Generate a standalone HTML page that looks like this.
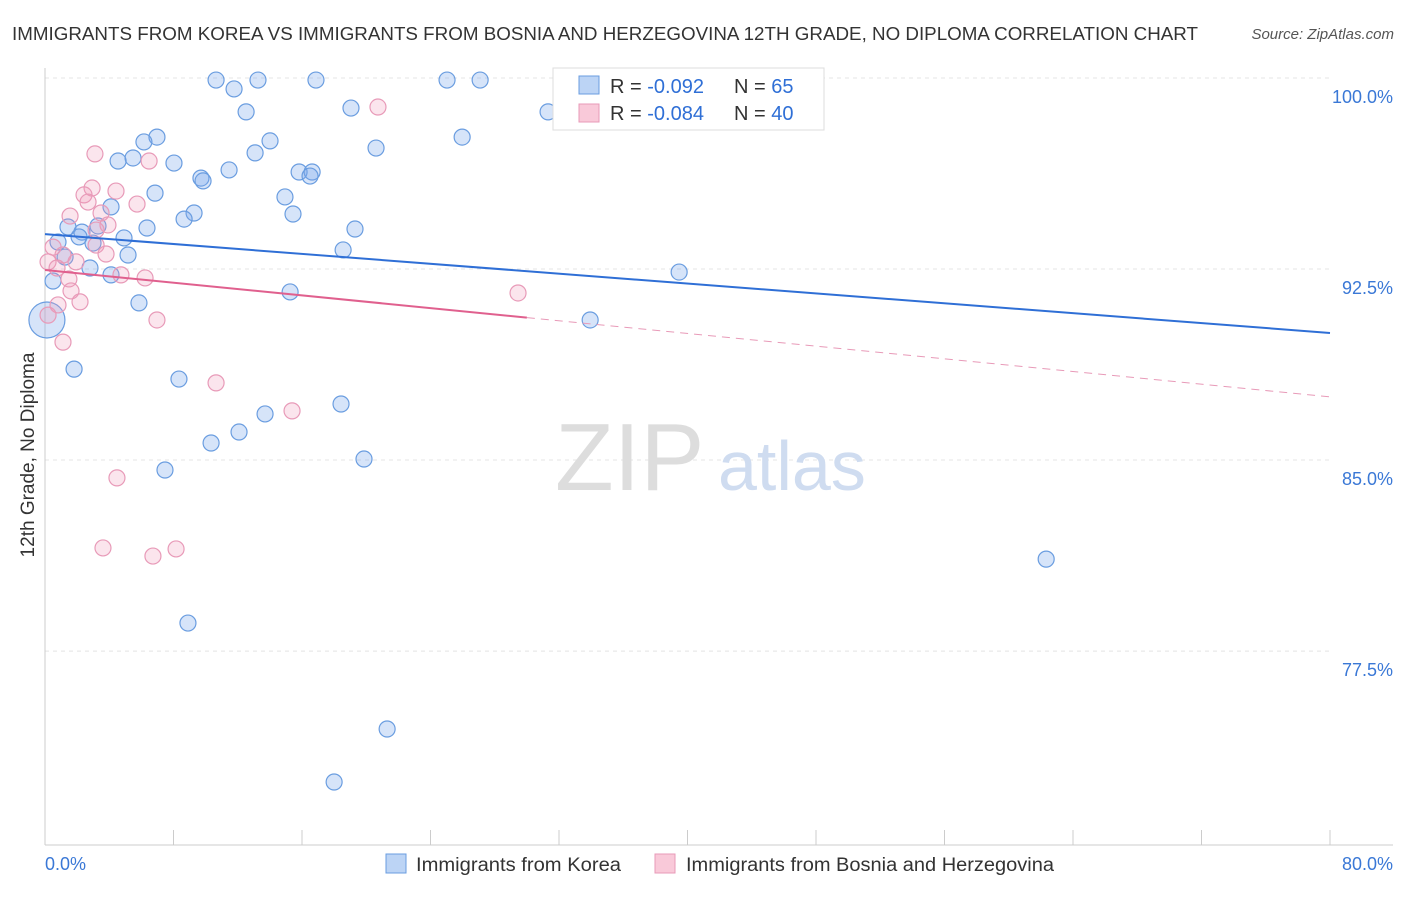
<!DOCTYPE html>
<html><head><meta charset="utf-8"><style>
body{margin:0;background:#fff;font-family:"Liberation Sans",sans-serif;}
svg text{font-family:"Liberation Sans",sans-serif;}
</style></head><body>
<svg id="chart" width="1406" height="892" xmlns="http://www.w3.org/2000/svg">
<text x="12" y="40" font-size="18" fill="#333" textLength="1186" lengthAdjust="spacingAndGlyphs">IMMIGRANTS FROM KOREA VS IMMIGRANTS FROM BOSNIA AND HERZEGOVINA 12TH GRADE, NO DIPLOMA CORRELATION CHART</text>
<text x="1394" y="39" font-size="15" fill="#555" font-style="italic" text-anchor="end">Source: ZipAtlas.com</text>
<g id="grid"></g>
<g>
<text x="555" y="490" font-size="96" fill="#ddd" font-family="Liberation Serif">ZIP</text>
<text x="718" y="490" font-size="70" fill="#cfdcf0">atlas</text>
</g>
<g id="axes"></g>
<g id="marks"></g>
<g id="trends"></g>
<text transform="translate(34,455) rotate(-90)" font-size="19" fill="#333" text-anchor="middle">12th Grade, No Diploma</text>
<g>
<rect x="553" y="68" width="271" height="62" fill="#fff" stroke="#ddd"/>
<rect x="579" y="76" width="20" height="18" fill="#bcd4f5" stroke="#6a9de0"/>
<rect x="579" y="104" width="20" height="18" fill="#f9c9d9" stroke="#e89ab8"/>
<text x="610" y="93" font-size="20" fill="#333">R = <tspan fill="#2f6fd6">-0.092</tspan></text>
<text x="734" y="93" font-size="20" fill="#333">N = <tspan fill="#2f6fd6">65</tspan></text>
<text x="610" y="120" font-size="20" fill="#333">R = <tspan fill="#2f6fd6">-0.084</tspan></text>
<text x="734" y="120" font-size="20" fill="#333">N = <tspan fill="#2f6fd6">40</tspan></text>
</g>
<g>
<rect x="386" y="854" width="20" height="19" fill="#bcd4f5" stroke="#6a9de0"/>
<text x="416" y="871" font-size="19" fill="#333" textLength="205" lengthAdjust="spacingAndGlyphs">Immigrants from Korea</text>
<rect x="655" y="854" width="20" height="19" fill="#f9c9d9" stroke="#e89ab8"/>
<text x="686" y="871" font-size="19" fill="#333" textLength="368" lengthAdjust="spacingAndGlyphs">Immigrants from Bosnia and Herzegovina</text>
</g>
</svg>
<script>
const yTicks=[100,92.5,85,77.5];
const yTickLabels=["100.0%","92.5%","85.0%","77.5%"];
const xTickLabels=["0.0%","80.0%"];
const koreaX=[10.65,11.77,13.26,16.87,25.03,27.09,19.05,12.52,31.32,25.97,6.97,6.16,14.01,20.61,13.08,5.48,4.55,8.03,11.46,15.82,16.63,16.50,9.71,9.84,6.85,14.94,4.11,9.28,8.66,15.44,6.35,19.30,1.43,3.30,2.30,2.12,4.92,0.81,2.99,18.56,5.17,1.25,2.80,4.11,39.48,0.50,15.26,5.85,33.94,0.12,1.81,8.34,18.43,13.70,12.08,10.34,19.86,7.47,62.33,8.90,21.30,18.00];
const koreaY=[99.92,99.57,99.92,99.92,99.92,99.92,98.82,98.67,98.67,97.68,97.68,97.49,97.53,97.25,97.06,96.86,96.74,96.66,96.39,96.31,96.31,96.15,96.07,95.96,95.48,95.33,94.94,94.70,94.46,94.66,94.11,94.07,94.15,94.19,93.95,93.76,93.72,93.56,93.52,93.25,93.05,92.97,92.54,92.27,92.38,92.03,91.60,91.17,90.50,90.50,88.57,88.18,87.20,86.81,86.10,85.67,85.04,84.61,81.11,78.60,74.44,72.36];
const bosniaX=[20.73,3.11,6.48,2.93,4.42,2.43,2.68,5.73,1.56,3.49,3.92,3.18,3.18,0.50,1.12,0.19,3.80,1.93,0.75,4.73,6.23,1.49,1.62,0.81,2.18,0.19,6.97,29.45,1.12,10.65,15.38,4.48,3.61,6.72,8.16];
const bosniaY=[98.86,97.02,96.74,95.68,95.56,95.41,95.13,95.05,94.58,94.70,94.23,94.03,93.44,93.36,93.05,92.78,93.09,92.78,92.54,92.27,92.15,92.11,91.64,91.09,91.21,90.69,90.50,91.56,89.63,88.03,86.93,84.30,81.55,81.23,81.51];
const koreaTrend=[93.87,89.99];
const bosniaTrend=[92.46,87.48];
const bosniaSolidEnd=30;
const NS="http://www.w3.org/2000/svg";
const sx=v=>45+v*(1285/80);
const sy=v=>78+(100-v)*25.47;
function mk(t,a,p){const e=document.createElementNS(NS,t);for(const k in a)e.setAttribute(k,a[k]);p.appendChild(e);return e;}
const grid=document.getElementById('grid'),axes=document.getElementById('axes'),marks=document.getElementById('marks'),trends=document.getElementById('trends');
yTicks.forEach((t,i)=>{
 const l=mk('line',{x1:45,x2:1330,y1:sy(t),y2:sy(t),stroke:'#e4e4e4','stroke-dasharray':'4,4'},grid);
 
 
 const tx=mk('text',{x:1393,y:sy(t)+25,'font-size':18,fill:'#3a78d6','text-anchor':'end'},axes);
 tx.textContent=yTickLabels[i];
 
 
});
mk('line',{x1:45,x2:45,y1:68,y2:845,stroke:'#ccc'},axes);
mk('line',{x1:45,x2:1393,y1:845,y2:845,stroke:'#ccc'},axes);
for(let i=0;i<=10;i++){const tk=mk('line',{x1:sx(i*8),x2:sx(i*8),y1:830,y2:845,stroke:'#ccc'},axes);
 
 }
[[0,45,'start'],[80,1393,'end']].forEach((d,i)=>{const t=mk('text',{x:d[1],y:870,'font-size':18,fill:'#3a78d6','text-anchor':d[2]},axes);t.textContent=xTickLabels[i];
 
 });
koreaX.forEach((x,i)=>{const c=mk('circle',{cx:sx(x),cy:sy(koreaY[i]),r:(i===49?18:8),fill:'rgba(120,165,235,0.3)',stroke:'#6a9de0','stroke-width':1.2},marks);
 
 });
bosniaX.forEach((x,i)=>{const c=mk('circle',{cx:sx(x),cy:sy(bosniaY[i]),r:8,fill:'rgba(240,150,185,0.25)',stroke:'#e89ab8','stroke-width':1.2},marks);
 
 });
const k=mk('line',{x1:sx(0),y1:sy(koreaTrend[0]),x2:sx(80),y2:sy(koreaTrend[1]),stroke:'#2f6fd6','stroke-width':2},trends);


const yb=bosniaTrend[0]+(bosniaTrend[1]-bosniaTrend[0])*bosniaSolidEnd/80;
const b1=mk('line',{x1:sx(0),y1:sy(bosniaTrend[0]),x2:sx(bosniaSolidEnd),y2:sy(yb),stroke:'#e0608e','stroke-width':2},trends);


const b2=mk('line',{x1:sx(bosniaSolidEnd),y1:sy(yb),x2:sx(80),y2:sy(bosniaTrend[1]),stroke:'#e89ab8','stroke-width':1,'stroke-dasharray':'8,6'},trends);


</script>
</body></html>
